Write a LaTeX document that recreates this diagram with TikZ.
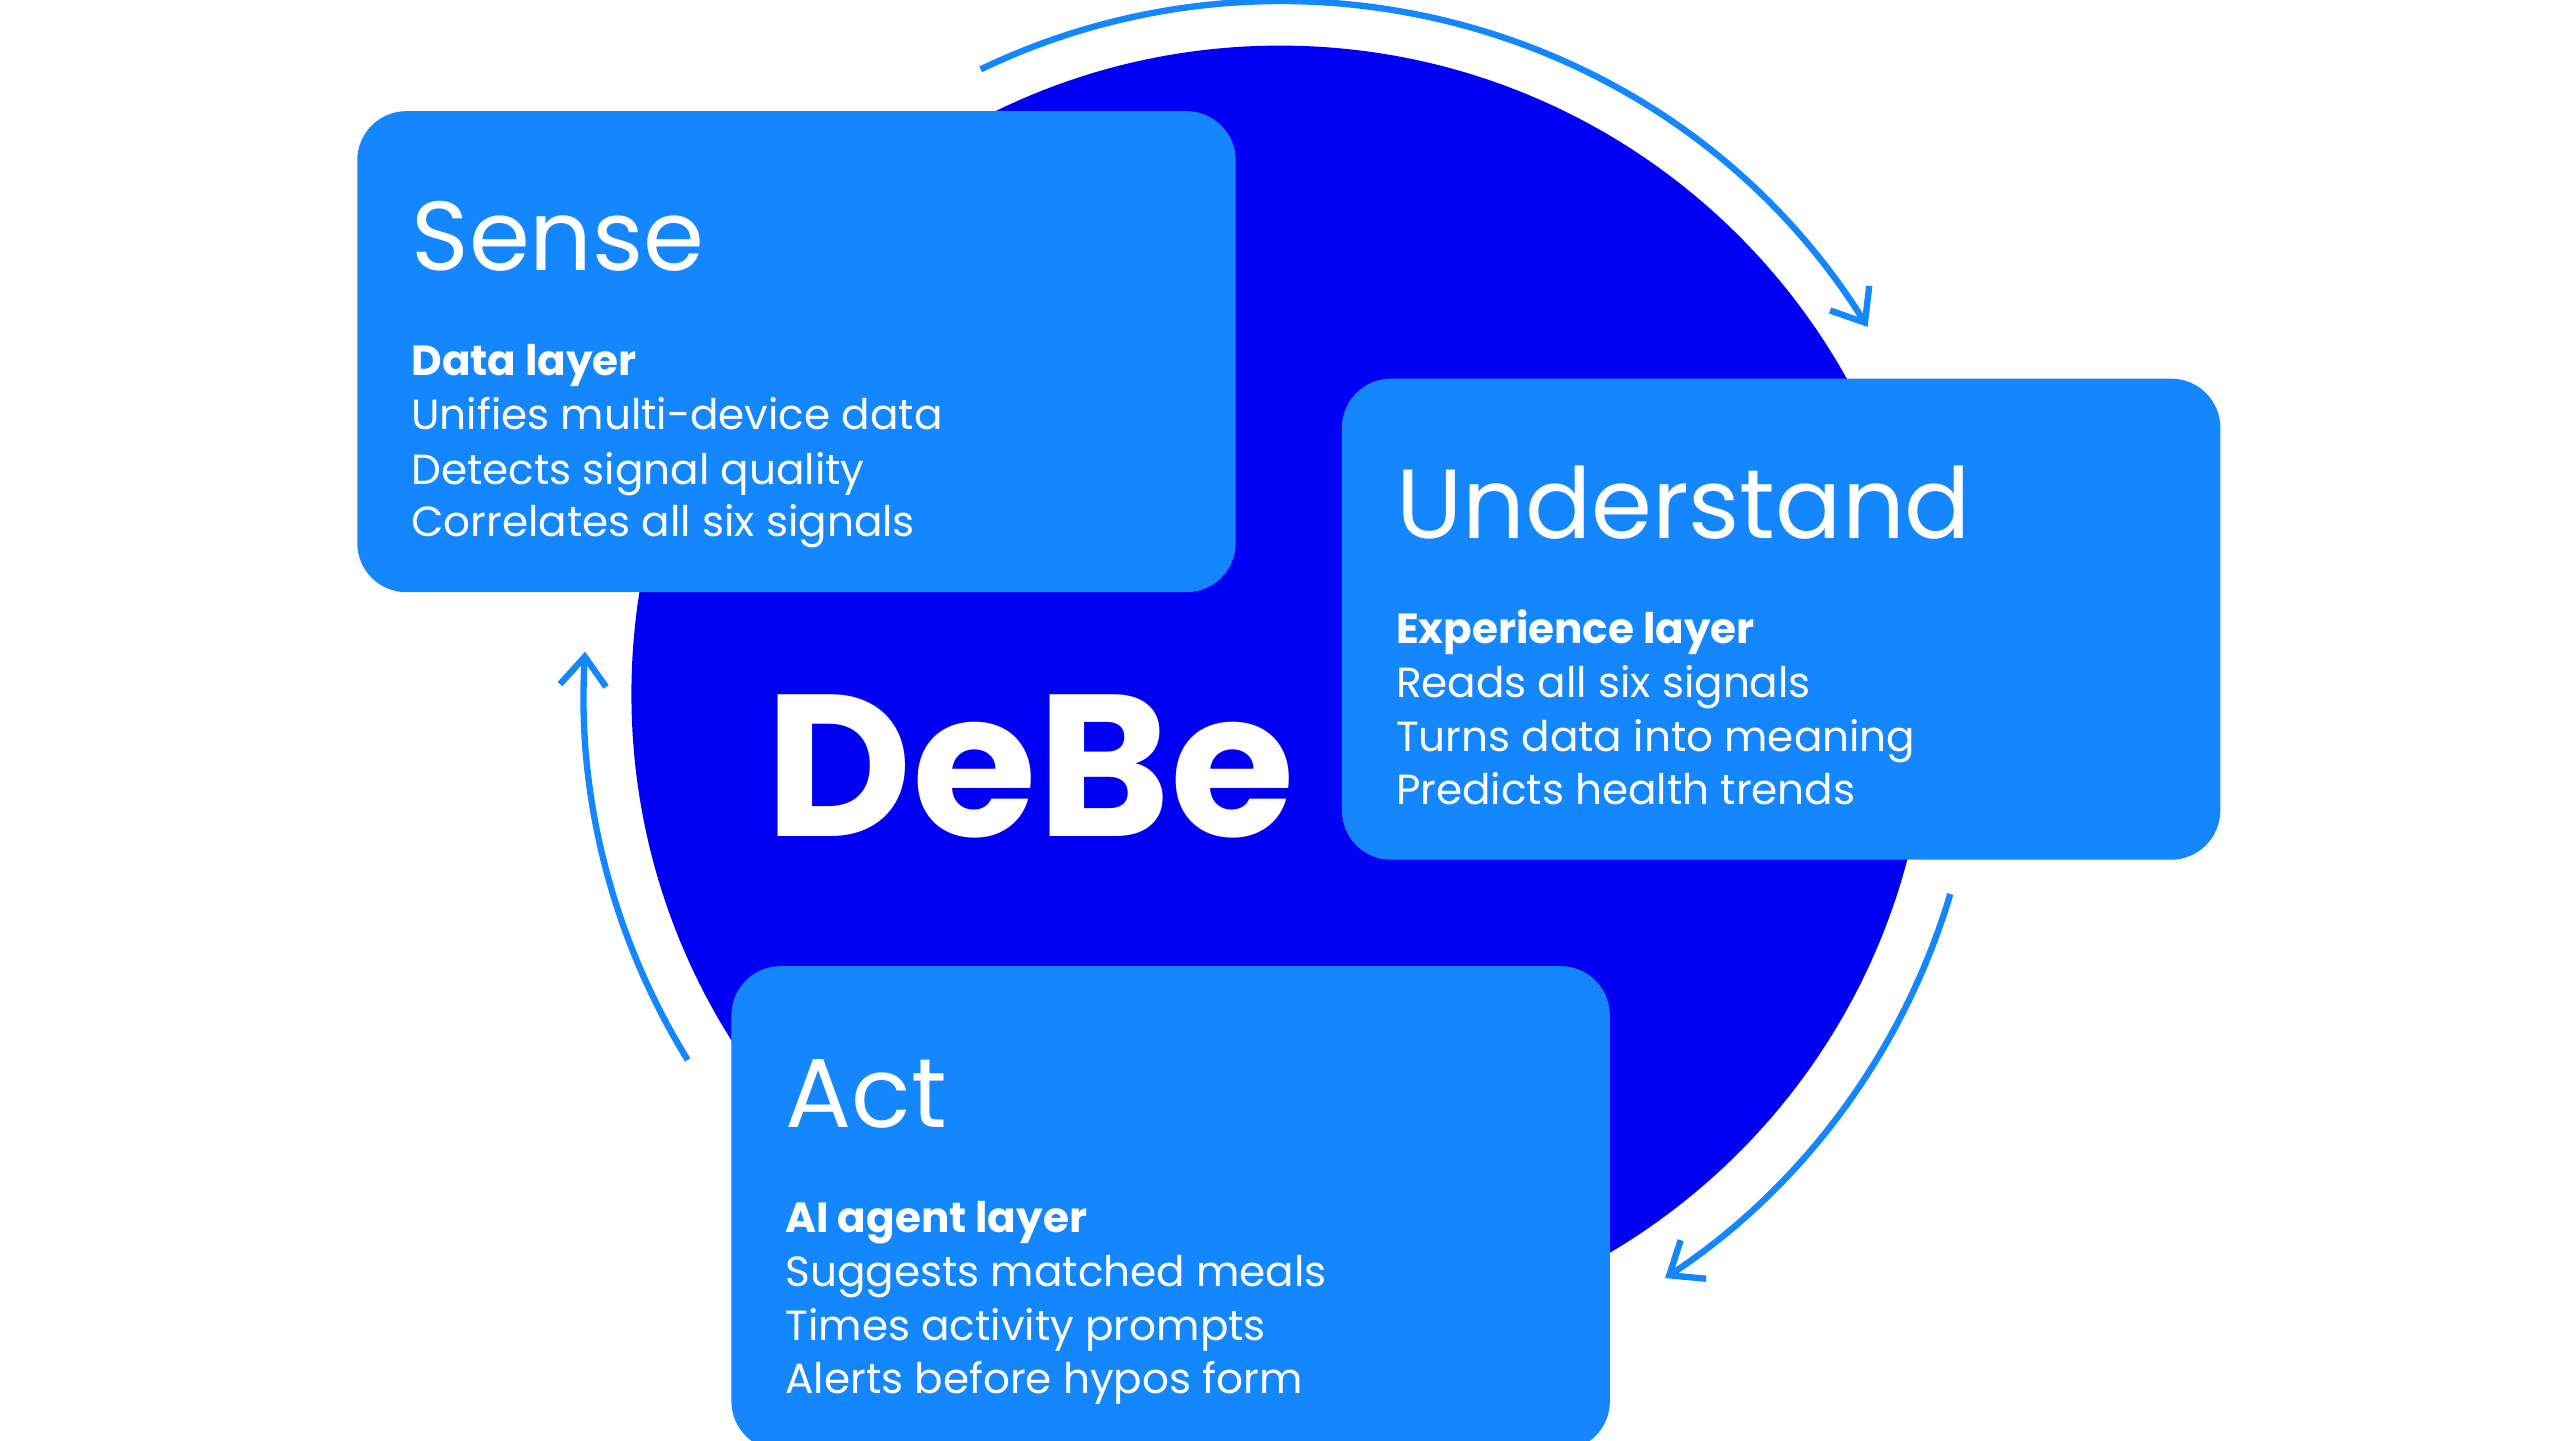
\documentclass[tikz,border=0pt]{standalone}
\usepackage{fontspec}
\setmainfont{Poppins}
\usetikzlibrary{arrows.meta}
\definecolor{boxc}{HTML}{1487FF}
\definecolor{circc}{HTML}{0000F5}
\begin{document}
\begin{tikzpicture}[x=0.01cm,y=-0.01cm,
  box/.style={fill=boxc,rounded corners=0.3cm},
  title/.style={anchor=base west,inner sep=0pt,text=white,font=\fontsize{17pt}{20pt}\selectfont},
  body/.style={anchor=base west,inner sep=0pt,text=white,font=\fontsize{7.3pt}{9pt}\selectfont},
  cyc/.style={draw=boxc,line width=1.1pt,-{Straight Barb[length=5pt,width=8pt,line width=1.1pt]}}]
\useasboundingbox (0,0) rectangle (1560,877.5);
\fill[circc] (780,423) circle[radius=3.95cm];
\coordinate (c) at (780,423);
\draw[cyc] ([shift={(115.6:4.22cm)}]c) arc[start angle=115.6,end angle=32,radius=4.22cm];
\draw[cyc] ([shift={(-16.6:4.26cm)}]c) arc[start angle=-16.6,end angle=-56.6,radius=4.26cm];
\draw[cyc] ([shift={(211.7:4.24cm)}]c) arc[start angle=211.7,end angle=176.5,radius=4.24cm];
\node[box,minimum width=5.35cm,minimum height=2.93cm,anchor=north west] (sense) at (217,67) {};
\node[box,minimum width=5.35cm,minimum height=2.93cm,anchor=north west] (und) at (817,230) {};
\node[box,minimum width=5.35cm,minimum height=2.95cm,anchor=north west] (act) at (445,588) {};
\node[title] (t1) at (250,165) {Sense};
\node[body] (b1a) at (250,229) {\textbf{Data layer}};
\node[body] (b1b) at (250,262) {Unifies multi-device data};
\node[body] (b1c) at (250,295) {Detects signal quality};
\node[body] (b1d) at (250,327) {Correlates all six signals};
\node[title] (t2) at (850,328) {Understand};
\node[body] (b2a) at (850,392) {\textbf{Experience layer}};
\node[body] (b2b) at (850,425) {Reads all six signals};
\node[body] (b2c) at (850,458) {Turns data into meaning};
\node[body] (b2d) at (850,490) {Predicts health trends};
\node[title] (t3) at (478,687) {Act};
\node[body] (b3a) at (478,751) {\textbf{AI agent layer}};
\node[body] (b3b) at (478,784) {Suggests matched meals};
\node[body] (b3c) at (478,817) {Times activity prompts};
\node[body] (b3d) at (478,849) {Alerts before hypos form};
\node[anchor=base west,inner sep=0pt,text=white,font=\fontsize{35pt}{36pt}\selectfont\bfseries] (debe) at (466,510) {DeBe};
\end{tikzpicture}
\end{document}
